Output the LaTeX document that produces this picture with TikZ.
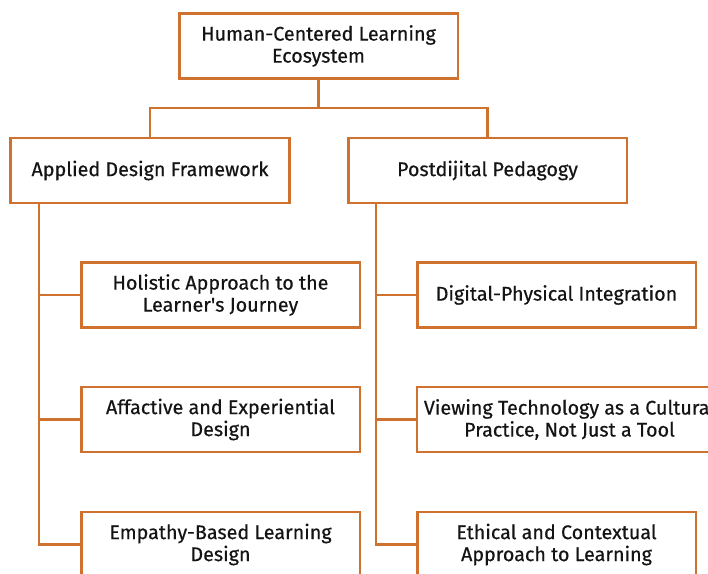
\documentclass[tikz,border=0pt]{standalone}
\usepackage{fontspec}
\setmainfont{Fira Sans}[FakeBold=0.45]
\definecolor{linecol}{HTML}{D0722F}
\definecolor{txtcol}{HTML}{141414}
\begin{document}
\begin{tikzpicture}[x=0.75pt,y=-0.75pt,
  box/.style={draw=linecol, line width=2pt, fill=white, rectangle,
    minimum width=209pt, minimum height=48.75pt, inner sep=0pt,
    align=center, text=txtcol, font=\fontsize{14.8}{16.5}\selectfont},
  wide/.style={box, minimum width=228.75pt},
  link/.style={draw=linecol, line width=2pt}]
  \useasboundingbox (0,0) rectangle (708,574);
  \clip (0,0) rectangle (708,574);

  % root and the two main branches
  \node[box] (root) at (318.5,46) {Human-Centered Learning\\Ecosystem};
  \node[box] (adf) at (150,170.5) {Applied Design Framework};
  \node[box] (pdp) at (487.5,170.5) {Postdijital Pedagogy};

  % children of the left branch
  \node[box] (a1) at (220.5,295) {Holistic Approach to the\\Learner\textquotesingle s Journey};
  \node[box] (a2) at (220.5,419.5) {Affactive and Experiential\\Design};
  \node[box] (a3) at (220.5,544.5) {Empathy-Based Learning\\Design};

  % children of the right branch
  \node[box] (p1) at (556.5,295) {Digital-Physical Integration};
  \node[wide] (p2) at (569.5,419.5) {Viewing Technology as a Cultural\\Practice, Not Just a Tool};
  \node[box] (p3) at (556.5,544.5) {Ethical and Contextual\\Approach to Learning};

  % bus between root and main branches
  \coordinate (bus) at (0,108);
  \draw[link] (root.south) -- (root.south |- bus);
  \draw[link] (adf.north) -- (adf.north |- bus) -- (pdp.north |- bus) -- (pdp.north);

  % spines
  \coordinate (lsp) at (39,0);
  \coordinate (rsp) at (376,0);
  \draw[link] (adf.south -| lsp) |- (a3.west);
  \draw[link] (lsp |- a1.west) -- (a1.west);
  \draw[link] (lsp |- a2.west) -- (a2.west);
  \draw[link] (pdp.south -| rsp) |- (p3.west);
  \draw[link] (rsp |- p1.west) -- (p1.west);
  \draw[link] (rsp |- p2.west) -- (p2.west);
\end{tikzpicture}
\end{document}
